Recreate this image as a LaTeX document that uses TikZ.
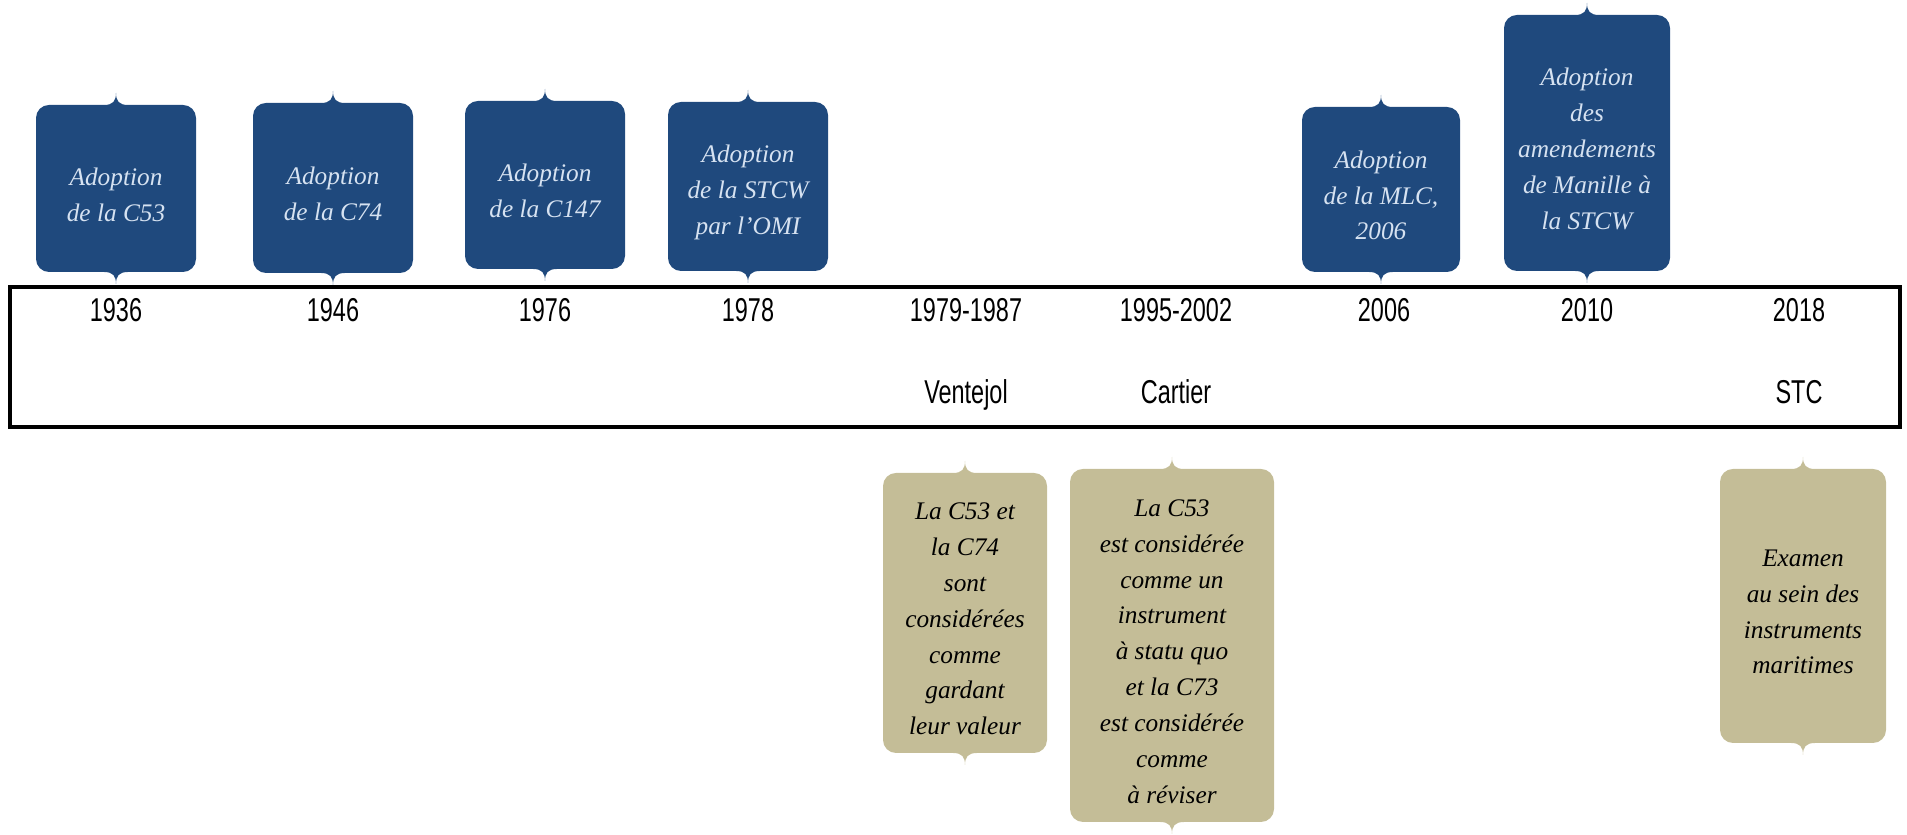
\documentclass[tikz,border=0pt]{standalone}
\usepackage{fontspec}
\setmainfont{Liberation Serif}
\newfontfamily\estreta[FakeStretch=0.71]{Liberation Sans}

\definecolor{blaufita}{RGB}{31,73,125}
\definecolor{textblau}{RGB}{214,226,241}
\definecolor{beix}{RGB}{196,189,151}

\tikzset{
  any/.style={font=\estreta\fontsize{9.4}{11}\selectfont, anchor=base},
  fitatext/.style={font=\itshape\fontsize{7.2}{10.2}\selectfont, align=center, inner sep=0pt, yshift=-0.6mm},
}

% Fitxa amb pics a dalt i a baix: nom, color, color del text, x, y dalt, y baix, mig ample, text
\newcommand{\fita}[8]{%
  \fill[#2] ({#4-#7},{#5-0.13}) arc (180:90:0.13)
    -- ({#4-0.12},{#5}) .. controls ({#4-0.03},{#5}) and ({#4},{#5+0.04}) .. ({#4},{#5+0.12})
    .. controls ({#4},{#5+0.04}) and ({#4+0.03},{#5}) .. ({#4+0.12},{#5})
    -- ({#4+#7-0.13},{#5}) arc (90:0:0.13)
    -- ({#4+#7},{#6+0.13}) arc (0:-90:0.13)
    -- ({#4+0.12},{#6}) .. controls ({#4+0.03},{#6}) and ({#4},{#6-0.04}) .. ({#4},{#6-0.12})
    .. controls ({#4},{#6-0.04}) and ({#4-0.03},{#6}) .. ({#4-0.12},{#6})
    -- ({#4-#7+0.13},{#6}) arc (-90:-180:0.13) -- cycle;
  \node[fitatext, text=#3] (#1) at ({#4},{(#5+#6)/2}) {#8};
}

\begin{document}
\begin{tikzpicture}
    \useasboundingbox (0,0) rectangle (19.07,8.35);

    % Fitxes de dalt (adopcions)
    \fita{c53}{blaufita}{textblau}{1.16}{7.30}{5.63}{0.80}{Adoption\\de la C53}
    \fita{c74}{blaufita}{textblau}{3.33}{7.32}{5.62}{0.80}{Adoption\\de la C74}
    \fita{c147}{blaufita}{textblau}{5.45}{7.34}{5.66}{0.80}{Adoption\\de la C147}
    \fita{stcw}{blaufita}{textblau}{7.48}{7.33}{5.64}{0.80}{Adoption\\de la STCW\\par l’OMI}
    \fita{mlc}{blaufita}{textblau}{13.81}{7.28}{5.63}{0.79}{Adoption\\de la MLC,\\2006}
    \fita{manille}{blaufita}{textblau}{15.87}{8.20}{5.64}{0.83}{Adoption\\des\\amendements\\de Manille à\\la STCW}

    % Franja del temps
    \node[draw, line width=0.9pt, minimum width=18.9cm, minimum height=1.4cm, inner sep=0pt] (franja) at (9.55,4.78) {};

    \node[any] (a1936) at (1.16,5.13) {1936};
    \node[any] (a1946) at (3.33,5.13) {1946};
    \node[any] (a1976) at (5.45,5.13) {1976};
    \node[any] (a1978) at (7.48,5.13) {1978};
    \node[any] (a1979) at (9.66,5.13) {1979-1987};
    \node[any] (a1995) at (11.76,5.13) {1995-2002};
    \node[any] (a2006) at (13.84,5.13) {2006};
    \node[any] (a2010) at (15.87,5.13) {2010};
    \node[any] (a2018) at (17.99,5.13) {2018};

    \node[any] (ventejol) at (9.66,4.31) {Ventejol};
    \node[any] (cartier) at (11.76,4.31) {Cartier};
    \node[any] (stc) at (17.99,4.31) {STC};

    % Fitxes de baix (informes)
    \fita{inf1}{beix}{black}{9.65}{3.62}{0.82}{0.82}{La C53 et\\la C74\\sont\\considérées\\comme\\gardant\\leur valeur}
    \fita{inf2}{beix}{black}{11.72}{3.66}{0.13}{1.02}{La C53\\est considérée\\comme un\\instrument\\à statu quo\\et la C73\\est considérée\\comme\\à réviser}
    \fita{inf3}{beix}{black}{18.03}{3.66}{0.92}{0.83}{Examen\\au sein des\\instruments\\maritimes}
\end{tikzpicture}
\end{document}
